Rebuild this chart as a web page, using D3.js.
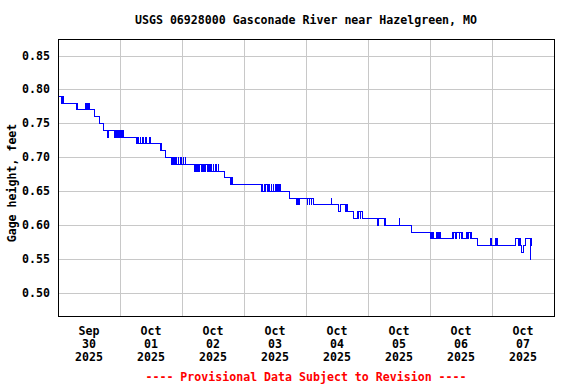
<!DOCTYPE html>
<html><head><meta charset="utf-8">
<script src="https://cdn.jsdelivr.net/npm/d3@7"></script>
<style>
html,body{margin:0;padding:0;background:#fff;}
svg{display:block;}
text{font-family:"DejaVu Sans Mono","Liberation Mono",monospace;font-weight:bold;font-size:11.6px;}
</style></head>
<body>
<script>
const chartTitle = "USGS 06928000 Gasconade River near Hazelgreen, MO";
const yAxisLabel = "Gage height, feet";
const footerText = "---- Provisional Data Subject to Revision ----";
const yTicks = [0.50, 0.55, 0.60, 0.65, 0.70, 0.75, 0.80, 0.85];
const dayTicks = ["2025-09-30","2025-10-01","2025-10-02","2025-10-03","2025-10-04","2025-10-05","2025-10-06","2025-10-07"];
const xDomain = ["2025-09-30","2025-10-08"];
const yDomain = [0.4666, 0.8743];
// gage height readings (change points), "MM-DD HH:MM", feet
const stageReadings = [
["09-30 00:00",.79],["09-30 01:15",.78],["09-30 01:30",.79],["09-30 01:45",.78],["09-30 02:00",.79],["09-30 02:15",.78],
["09-30 07:00",.77],["09-30 07:15",.78],["09-30 07:30",.77],["09-30 10:30",.78],["09-30 10:45",.77],["09-30 11:00",.78],
["09-30 11:15",.77],["09-30 11:30",.78],["09-30 11:45",.77],["09-30 12:00",.78],["09-30 12:15",.77],["09-30 14:15",.76],
["09-30 16:00",.75],["09-30 17:45",.74],["09-30 19:15",.73],["09-30 19:30",.74],["09-30 22:00",.73],["09-30 22:15",.74],
["09-30 22:45",.73],["09-30 23:00",.74],["09-30 23:30",.73],["09-30 23:45",.74],["10-01 00:15",.73],["10-01 00:30",.74],
["10-01 01:00",.73],["10-01 01:15",.74],["10-01 01:30",.73],["10-01 06:15",.72],["10-01 06:45",.73],["10-01 07:00",.72],
["10-01 07:45",.73],["10-01 08:00",.72],["10-01 08:45",.73],["10-01 09:00",.72],["10-01 10:00",.73],["10-01 10:15",.72],
["10-01 11:30",.73],["10-01 11:45",.72],["10-01 15:30",.71],["10-01 15:45",.72],["10-01 16:00",.71],["10-01 17:30",.70],
["10-01 19:45",.69],["10-01 20:00",.70],["10-01 20:15",.69],["10-01 20:45",.70],["10-01 21:00",.69],["10-01 21:30",.70],
["10-01 21:45",.69],["10-01 22:30",.70],["10-01 22:45",.69],["10-01 23:30",.70],["10-01 23:45",.69],["10-02 00:30",.70],
["10-02 00:45",.69],["10-02 01:15",.70],["10-02 01:30",.69],["10-02 05:00",.68],["10-02 05:15",.69],["10-02 05:45",.68],
["10-02 06:00",.69],["10-02 06:30",.68],["10-02 06:45",.69],["10-02 07:30",.68],["10-02 08:00",.69],["10-02 08:15",.68],
["10-02 08:45",.69],["10-02 09:00",.68],["10-02 09:15",.69],["10-02 09:45",.68],["10-02 10:15",.69],["10-02 10:30",.68],
["10-02 11:00",.69],["10-02 11:15",.68],["10-02 12:00",.69],["10-02 12:15",.68],["10-02 13:00",.69],["10-02 13:30",.68],
["10-02 14:00",.69],["10-02 14:15",.68],["10-02 16:30",.67],["10-02 18:45",.66],["10-02 19:00",.67],["10-02 19:30",.66],
["10-03 06:45",.65],["10-03 07:00",.66],["10-03 07:15",.65],["10-03 07:45",.66],["10-03 08:15",.65],["10-03 08:30",.66],
["10-03 09:00",.65],["10-03 09:30",.66],["10-03 09:45",.65],["10-03 10:30",.66],["10-03 10:45",.65],["10-03 11:15",.66],
["10-03 11:30",.65],["10-03 12:00",.66],["10-03 12:30",.65],["10-03 13:00",.66],["10-03 13:15",.65],["10-03 13:45",.66],
["10-03 14:00",.65],["10-03 17:30",.64],["10-03 20:30",.63],["10-03 20:45",.64],["10-03 21:00",.63],["10-03 21:30",.64],
["10-04 00:30",.63],["10-04 00:45",.64],["10-04 01:15",.63],["10-04 01:30",.64],["10-04 02:00",.63],["10-04 02:15",.64],
["10-04 02:45",.63],["10-04 09:45",.64],["10-04 10:00",.63],["10-04 12:30",.62],["10-04 13:15",.63],["10-04 15:15",.62],
["10-04 15:30",.63],["10-04 15:45",.62],["10-04 16:00",.63],["10-04 16:15",.62],["10-04 18:30",.61],["10-04 19:45",.62],
["10-04 20:15",.61],["10-04 20:30",.62],["10-04 21:00",.61],["10-04 21:15",.62],["10-04 21:45",.61],["10-05 03:45",.60],
["10-05 04:15",.61],["10-05 06:15",.60],["10-05 06:30",.61],["10-05 06:45",.60],["10-05 12:00",.61],["10-05 12:15",.60],
["10-05 17:00",.59],["10-06 00:15",.58],["10-06 00:30",.59],["10-06 00:45",.58],["10-06 01:00",.59],["10-06 01:15",.58],
["10-06 02:30",.59],["10-06 02:45",.58],["10-06 03:15",.59],["10-06 03:30",.58],["10-06 03:45",.59],["10-06 04:00",.58],
["10-06 08:45",.59],["10-06 09:00",.58],["10-06 09:15",.59],["10-06 09:45",.58],["10-06 10:15",.59],["10-06 11:15",.58],
["10-06 11:30",.59],["10-06 12:00",.58],["10-06 12:15",.59],["10-06 12:45",.58],["10-06 14:15",.59],["10-06 14:30",.58],
["10-06 14:45",.59],["10-06 15:30",.58],["10-06 15:45",.59],["10-06 16:15",.58],["10-06 18:15",.57],["10-06 23:30",.58],
["10-06 23:45",.57],["10-07 01:15",.58],["10-07 01:30",.57],["10-07 01:45",.58],["10-07 02:15",.57],["10-07 09:15",.58],
["10-07 10:15",.57],["10-07 10:30",.58],["10-07 11:00",.57],["10-07 11:15",.56],["10-07 12:00",.57],["10-07 13:00",.58],
["10-07 14:45",.55],["10-07 15:00",.57],["10-07 15:15",.58],["10-07 15:30",.58]
];

const W = 576, H = 384;
const plot = {left:58, right:554, top:39, bottom:316};
const parseDay = d3.timeParse("%Y-%m-%d");
const parseT = d3.timeParse("%Y-%m-%d %H:%M");
const data = stageReadings.map(([t,v]) => ({t: parseT("2025-" + t), v}));

const x = d3.scaleTime().domain(xDomain.map(parseDay)).range([plot.left, plot.right]);
const y = d3.scaleLinear().domain(yDomain).range([plot.bottom, plot.top]);

const svg = d3.select("body").append("svg").attr("width", W).attr("height", H);
svg.append("rect").attr("width", W).attr("height", H).attr("fill", "#fff");

// grid
const g = svg.append("g").attr("shape-rendering","crispEdges");
g.selectAll("line.hy").data(yTicks).join("line")
  .attr("x1", plot.left).attr("x2", plot.right)
  .attr("y1", d => Math.round(y(d)) + 0.5).attr("y2", d => Math.round(y(d)) + 0.5)
  .attr("stroke", "#c8c8c8").attr("stroke-width", 1);
const days = dayTicks.map(parseDay);
g.selectAll("line.vx").data(days.slice(1)).join("line")
  .attr("x1", d => Math.round(x(d)) + 0.5).attr("x2", d => Math.round(x(d)) + 0.5)
  .attr("y1", plot.top).attr("y2", plot.bottom)
  .attr("stroke", "#c8c8c8").attr("stroke-width", 1);

// data line
const line = d3.line().x(d => x(d.t)).y(d => y(d.v)).curve(d3.curveStepAfter);
svg.append("path").datum(data).attr("d", line)
  .attr("fill", "none").attr("stroke", "#0000ff").attr("stroke-width", 1)
  .attr("shape-rendering", "crispEdges");

// border
svg.append("rect").attr("x", plot.left + 0.5).attr("y", plot.top + 0.5)
  .attr("width", plot.right - plot.left).attr("height", plot.bottom - plot.top)
  .attr("fill", "none").attr("stroke", "#000").attr("stroke-width", 1)
  .attr("shape-rendering", "crispEdges");

// y tick labels
svg.selectAll("text.yt").data(yTicks).join("text")
  .attr("x", 50).attr("y", d => y(d) + 4)
  .attr("text-anchor", "end").text(d => d3.format(".2f")(d));

// x tick labels (at noon of each day)
const fmtM = d3.timeFormat("%b"), fmtD = d3.timeFormat("%d"), fmtY = d3.timeFormat("%Y");
const xl = svg.selectAll("g.xl").data(days).join("g")
  .attr("transform", d => `translate(${x(d3.timeHour.offset(d, 12))},0)`);
xl.append("text").attr("y", 334.5).attr("text-anchor","middle").text(d => fmtM(d));
xl.append("text").attr("y", 347.5).attr("text-anchor","middle").text(d => fmtD(d));
xl.append("text").attr("y", 360.8).attr("text-anchor","middle").text(d => fmtY(d));

// title
svg.append("text").attr("x", (plot.left + plot.right) / 2).attr("y", 24)
  .attr("text-anchor","middle").text(chartTitle);

// y axis label
svg.append("text").attr("transform", "translate(16,183) rotate(-90)")
  .attr("text-anchor","middle").text(yAxisLabel);

// footer
svg.append("text").attr("x", (plot.left + plot.right) / 2).attr("y", 380.5)
  .attr("text-anchor","middle").attr("fill","#ff0000").text(footerText);
</script>
</body></html>
